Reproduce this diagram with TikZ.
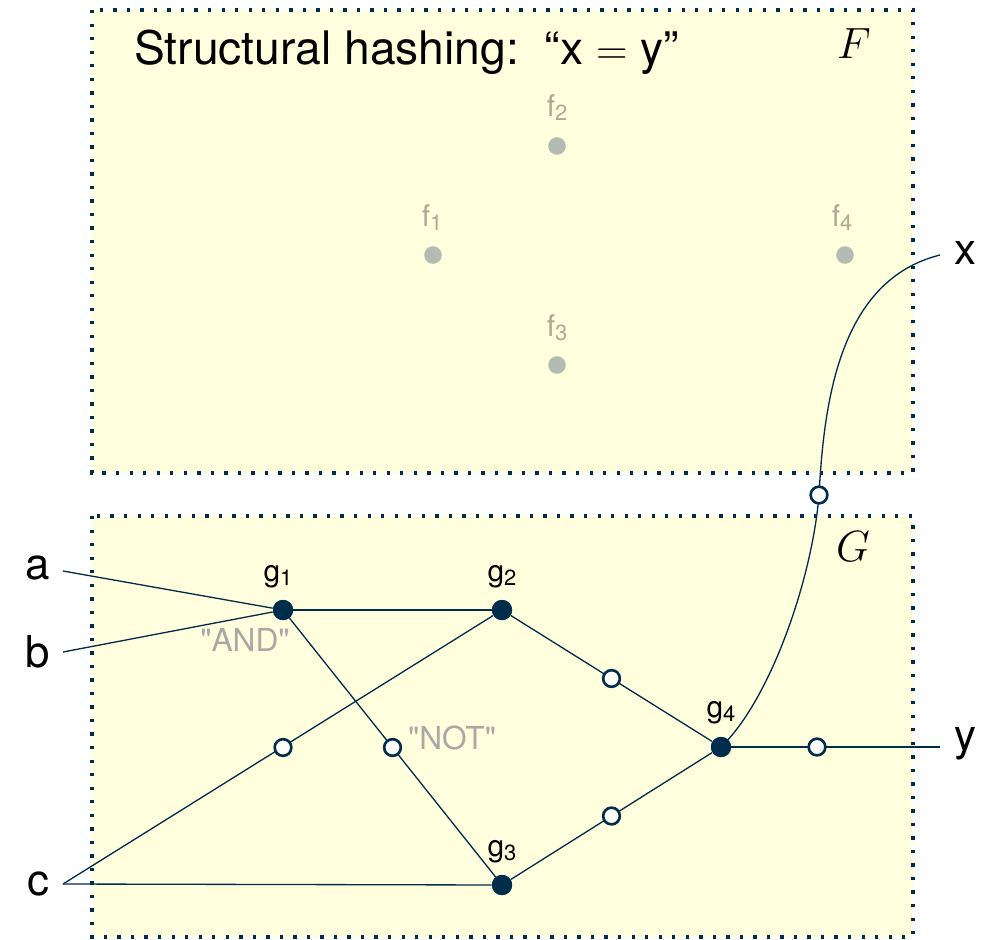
\documentclass[tikz,border=0pt]{standalone}
\usepackage{fontspec}
\setmainfont{TeX Gyre Heros}
\newfontfamily\plainfont{TeX Gyre Heros}
\definecolor{navy}{RGB}{0,45,75}
\definecolor{boxfill}{RGB}{255,255,222}
\definecolor{fgray}{RGB}{178,188,178}
\definecolor{flabel}{RGB}{170,170,150}
\definecolor{opgray}{RGB}{168,168,168}
\tikzset{
  panel/.style={fill=boxfill, draw=navy, line width=1.9pt, dash pattern=on 1.9pt off 5.8pt},
  gate/.style={circle, fill=navy, inner sep=0pt, minimum size=11.5pt},
  inv/.style={circle, fill=white, draw=navy, line width=1.5pt, inner sep=0pt, minimum size=9.5pt},
  fdot/.style={circle, fill=fgray, inner sep=0pt, minimum size=10pt},
  wire/.style={draw=navy, line width=0.75pt},
  big/.style={font=\fontsize{25}{28}\selectfont, inner sep=0pt},
  mathlab/.style={font=\fontsize{33}{36}\selectfont, inner sep=0pt},
  glab/.style={font=\fontsize{17}{19}\selectfont},
  flab/.style={font=\fontsize{17}{19}\selectfont, text=flabel},
  oplab/.style={font=\plainfont\fontsize{18}{20}\selectfont, text=opgray},
}
\newcommand{\gsub}[2]{#1\raisebox{-0.25ex}{\fontsize{12.5}{14}\selectfont #2}}
\begin{document}
\begin{tikzpicture}[x=0.02cm,y=-0.02cm]
\useasboundingbox (0,0) rectangle (989,939);
% panels
\path[panel] (92,10) rectangle (913,473);
\path[panel] (92,516) rectangle (913,937);
% titles
\node[big, font=\fontsize{26.3}{29}\selectfont, anchor=base west] (title) at (134,65) {Structural hashing:\ \ “x $=$ y”};
\node[mathlab] (Flab) at (854,44) {$F$};
\node[mathlab] (Glab) at (853,547) {$G$};
% F nodes
\node[fdot] (f1) at (433,255) {};
\node[fdot] (f2) at (557,146) {};
\node[fdot] (f3) at (557,365) {};
\node[fdot] (f4) at (845,255) {};
\node[flab] (f1l) at (432,218) {\gsub{f}{1}};
\node[flab] (f2l) at (557,108) {\gsub{f}{2}};
\node[flab] (f3l) at (557,328) {\gsub{f}{3}};
\node[flab] (f4l) at (842,218) {\gsub{f}{4}};
% G nodes
\node[gate] (g1) at (283,610) {};
\node[gate] (g2) at (502,610) {};
\node[gate] (g3) at (502,885) {};
\node[gate] (g4) at (721,747) {};
\node[glab] (g1l) at (278,577) {\gsub{g}{1}};
\node[glab] (g2l) at (502,577) {\gsub{g}{2}};
\node[glab] (g3l) at (502,852) {\gsub{g}{3}};
\node[glab] (g4l) at (721,713) {\gsub{g}{4}};
\node[oplab] (andl) at (245,640) {"AND"};
\node[oplab] (notl) at (452,738) {"NOT"};
% inputs/outputs
\coordinate (a) at (63,571);
\coordinate (b) at (63,652);
\coordinate (c) at (63,884);
\coordinate (x) at (940,255);
\coordinate (y) at (940,747);
\coordinate (xm) at (819,495);
\node[big, anchor=east] (al) at (50,568) {a};
\node[big, anchor=east] (bl) at (50,652) {b};
\node[big, anchor=east] (cl) at (50,884) {c};
\node[big, anchor=west] (xl) at (954,253) {x};
\node[big, anchor=west] (yl) at (954,744) {y};
% wires
\draw[wire] (a) -- (g1);
\draw[wire] (b) -- (g1);
\draw[wire] (g1) -- (g2);
\draw[wire] (c) -- (g2);
\draw[wire] (c) -- (g3);
\draw[wire] (g1) -- (g3);
\draw[wire] (g2) -- (g4);
\draw[wire] (g3) -- (g4);
\draw[wire] (g4) -- (y);
\draw[wire] (g4.center) .. controls (770,700) and (812,580) .. (xm) .. controls (824,400) and (840,280) .. (x);
% inverters
\node[inv] (i1) at (283,747.5) {};
\node[inv] (i2) at (392.5,747.5) {};
\node[inv] (i3) at (611.5,678.5) {};
\node[inv] (i4) at (611.5,816) {};
\node[inv] (i5) at (817,747) {};
\node[inv] (i6) at (xm) {};
% redraw gates on top
\node[gate] at (g1) {};
\node[gate] at (g2) {};
\node[gate] at (g3) {};
\node[gate] at (g4) {};
\end{tikzpicture}
\end{document}
